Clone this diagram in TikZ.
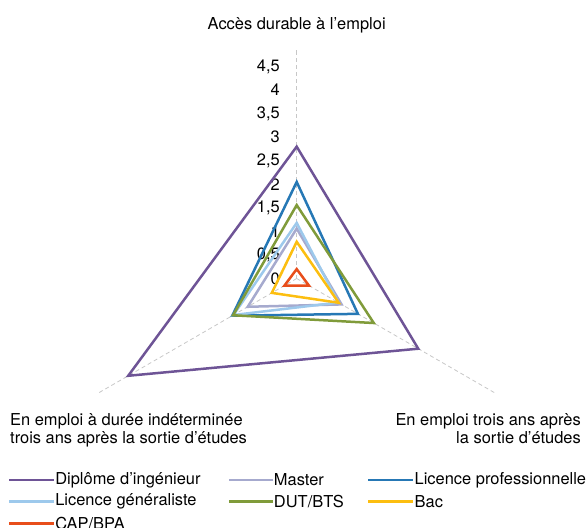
\documentclass[tikz,border=0pt]{standalone}
\usepackage{fontspec}
\setmainfont{TeX Gyre Heros}
\usepackage{tikz}
\usetikzlibrary{calc}

\definecolor{ingenieur}{RGB}{110,84,150}
\definecolor{master}{RGB}{166,170,206}
\definecolor{licpro}{RGB}{38,120,181}
\definecolor{licgen}{RGB}{157,201,236}
\definecolor{dutbts}{RGB}{128,155,58}
\definecolor{bac}{RGB}{252,190,16}
\definecolor{capbpa}{RGB}{232,78,27}

\tikzset{
	axe/.style={draw=black!22, line width=0.8bp, dash pattern=on 4bp off 3bp},
	serie/.style={line width=2.5bp, line join=miter},
	etiq/.style={inner sep=0pt, text=black, font=\fontsize{16.5}{18}\selectfont},
}

\begin{document}
\begin{tikzpicture}[x=47.1bp, y=47.1bp]
		\useasboundingbox (-6.299,-5.276) rectangle (6.142,5.913);
		\coordinate (O) at (0,0);
		\coordinate (T) at (90:4.87);
		\coordinate (R) at (-30:4.87);
		\coordinate (L) at (210:4.87);
		
		% axes
		\draw[axe] (O) -- (T);
		\draw[axe] (O) -- (R);
		\draw[axe] (O) -- (L);
		
		% graduations
		\node[etiq, anchor=east] at (-0.355,0) {0};
		\node[etiq, anchor=east] at (-0.355,0.5) {0,5};
		\node[etiq, anchor=east] at (-0.355,1) {1};
		\node[etiq, anchor=east] at (-0.355,1.5) {1,5};
		\node[etiq, anchor=east] at (-0.355,2) {2};
		\node[etiq, anchor=east] at (-0.355,2.5) {2,5};
		\node[etiq, anchor=east] at (-0.355,3) {3};
		\node[etiq, anchor=east] at (-0.355,3.5) {3,5};
		\node[etiq, anchor=east] at (-0.355,4) {4};
		\node[etiq, anchor=east] at (-0.355,4.5) {4,5};
		
		% titres des axes
		\node[etiq] (acces) at (0,5.382) {Accès durable à l’emploi};
		\node[etiq, anchor=west, align=left] (cdi) at (-6.087,-3.217)
			{En emploi à durée indéterminée\\trois ans après la sortie d’études};
		\node[etiq, anchor=east, align=right] (emploi) at (6.036,-3.185)
			{En emploi trois ans après\\la sortie d’études};
		
		% series
		\coordinate (D1) at (90:2.8);
		\coordinate (D2) at (-30:2.98);
		\coordinate (D3) at (210:4.13);
		\coordinate (M1) at (90:1.06);
		\coordinate (M2) at (-30:1.1);
		\coordinate (M3) at (210:1.2);
		\coordinate (P1) at (90:2.05);
		\coordinate (P2) at (-30:1.5);
		\coordinate (P3) at (210:1.58);
		\coordinate (G1) at (90:1.18);
		\coordinate (G2) at (-30:1.02);
		\coordinate (G3) at (210:1.55);
		\coordinate (U1) at (90:1.56);
		\coordinate (U2) at (-30:1.89);
		\coordinate (U3) at (210:1.56);
		\coordinate (B1) at (90:0.78);
		\coordinate (B2) at (-30:1.03);
		\coordinate (B3) at (210:0.61);
		\coordinate (C1) at (90:0.2);
		\coordinate (C2) at (-30:0.3);
		\coordinate (C3) at (210:0.3);
		
		\draw[serie, ingenieur] (D1) -- (D2) -- (D3) -- cycle;
		\draw[serie, master] (M1) -- (M2) -- (M3) -- cycle;
		\draw[serie, licpro] (P1) -- (P2) -- (P3) -- cycle;
		\draw[serie, licgen] (G1) -- (G2) -- (G3) -- cycle;
		\draw[serie, dutbts] (U1) -- (U2) -- (U3) -- cycle;
		\draw[serie, bac] (B1) -- (B2) -- (B3) -- cycle;
		\draw[serie, capbpa] (C1) -- (C2) -- (C3) -- cycle;
		
		% legende
		\draw[serie, ingenieur] (-6.102,-4.278) -- (-5.153,-4.278)
			node[etiq, right=0.113] {Diplôme d’ingénieur};
		\draw[serie, master] (-1.431,-4.278) -- (-0.51,-4.278)
			node[etiq, right=0.07] {Master};
		\draw[serie, licpro] (1.514,-4.278) -- (2.476,-4.278)
			node[etiq, right=0.114] {Licence professionnelle};
		\draw[serie, licgen] (-6.102,-4.739) -- (-5.153,-4.739)
			node[etiq, right=0.113] {Licence généraliste};
		\draw[serie, dutbts] (-1.431,-4.739) -- (-0.51,-4.739)
			node[etiq, right=0.07] {DUT/BTS};
		\draw[serie, bac] (1.514,-4.739) -- (2.476,-4.739)
			node[etiq, right=0.114] {Bac};
		\draw[serie, capbpa] (-6.102,-5.2) -- (-5.153,-5.2)
			node[etiq, right=0.113] {CAP/BPA};
	\end{tikzpicture}
\end{document}
